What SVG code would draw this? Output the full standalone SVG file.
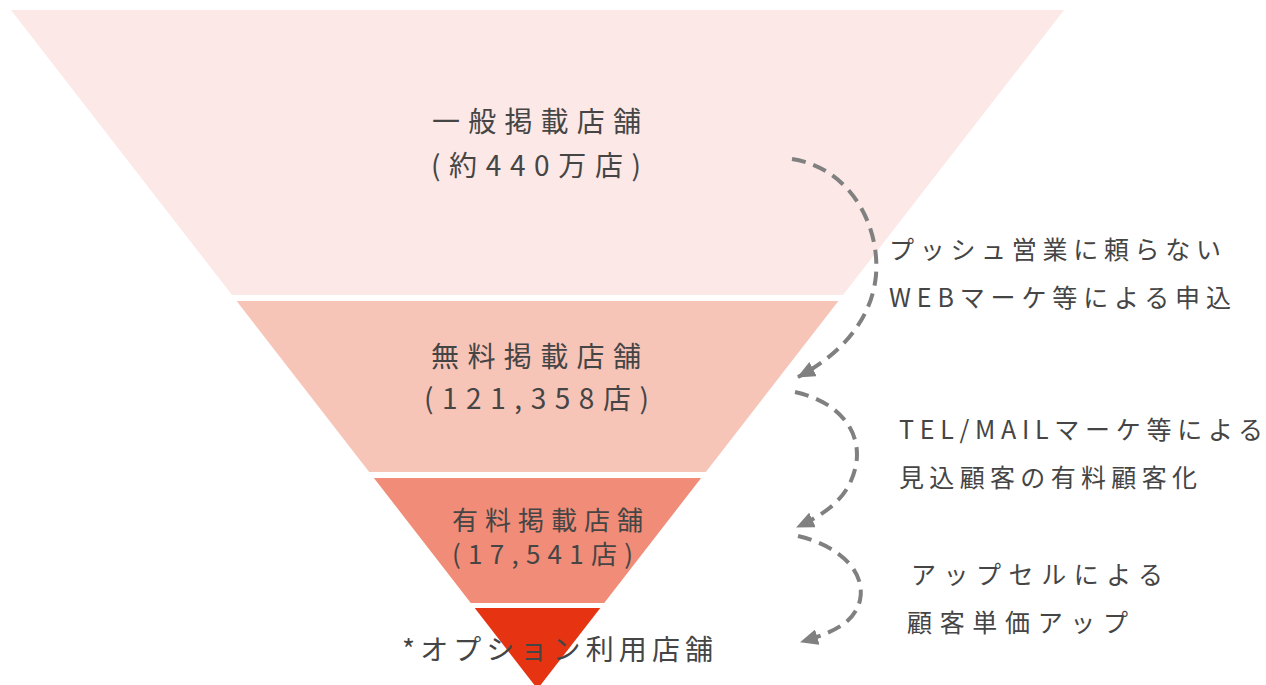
<svg xmlns="http://www.w3.org/2000/svg" width="1266" height="685" viewBox="0 0 1266 685">
<defs>
<style>
.t{font-family:"Noto Sans CJK JP","Noto Sans",sans-serif;fill:#454545;font-weight:400;}
.big{font-size:28px;}
.mid{font-size:26px;}
.side{font-size:25px;}
.arr{fill:none;stroke:#808080;stroke-width:4;stroke-dasharray:14 8;}
</style>
<marker id="ah" markerUnits="userSpaceOnUse" viewBox="0 0 18 16" refX="17" refY="8" markerWidth="18" markerHeight="16" orient="auto">
<path d="M0,0 L18,8 L0,16 Z" fill="#808080"/>
</marker>
</defs>
<rect width="1266" height="685" fill="#ffffff"/>
<g id="tier1">
<polygon points="11,10 1064,10 843,295 232,295" fill="#FCE8E6"/>
<text class="t big" x="432" y="132" textLength="209" lengthAdjust="spacing">一般掲載店舗</text>
<text class="t big" x="431" y="176" textLength="210" lengthAdjust="spacing">(約440万店)</text>
</g>
<g id="tier2">
<polygon points="236.6,301 838.4,301 705.8,472 369.2,472" fill="#F7C4B8"/>
<text class="t big" x="431" y="367" textLength="210" lengthAdjust="spacing">無料掲載店舗</text>
<text class="t big" x="424" y="409" textLength="225" lengthAdjust="spacing">(121,358店)</text>
</g>
<g id="tier3">
<polygon points="373.9,478 701.1,478 604.2,603 470.8,603" fill="#F08C77"/>
<text class="t mid" x="452" y="530" textLength="191" lengthAdjust="spacing">有料掲載店舗</text>
<text class="t mid" x="452" y="564" textLength="181" lengthAdjust="spacing">(17,541店)</text>
</g>
<g id="tier4">
<polygon points="474.7,608 600.3,608 537.5,689" fill="#E63412"/>
<text class="t big" x="402" y="660" textLength="311" lengthAdjust="spacing">*オプション利用店舗</text>
</g>
<g id="connectors">
<path class="arr" d="M792,159 C850,168 880,225 876,275 C872,320 840,355 798,377" marker-end="url(#ah)"/>
<path class="arr" d="M795,392 C840,402 862,432 856,465 C850,495 830,512 797,527" marker-end="url(#ah)"/>
<path class="arr" d="M798,536 C840,546 866,572 860,600 C855,622 835,632 801,642" marker-end="url(#ah)"/>
</g>
<g id="label1">
<text class="t side" x="889" y="259" textLength="332" lengthAdjust="spacing">プッシュ営業に頼らない</text>
<text class="t side" x="889" y="307" textLength="342" lengthAdjust="spacing">WEBマーケ等による申込</text>
</g>
<g id="label2">
<text class="t side" x="899" y="439" textLength="364" lengthAdjust="spacing">TEL/MAILマーケ等による</text>
<text class="t side" x="899" y="487" textLength="298" lengthAdjust="spacing">見込顧客の有料顧客化</text>
</g>
<g id="label3">
<text class="t side" x="911" y="584" textLength="252" lengthAdjust="spacing">アップセルによる</text>
<text class="t side" x="907" y="632" textLength="221" lengthAdjust="spacing">顧客単価アップ</text>
</g>
</svg>
